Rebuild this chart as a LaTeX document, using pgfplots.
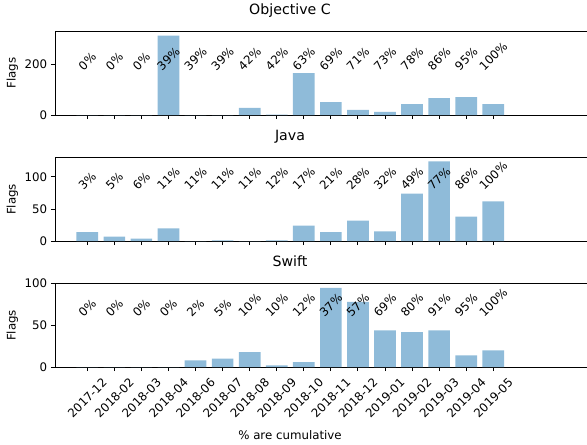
\documentclass[border=0pt]{standalone}
\usepackage{fontspec}
\setmainfont{DejaVu Sans}
\usepackage{graphicx}
\usepackage{pgfplots}
\usepackage{pgfplotstable}
\pgfplotsset{compat=1.18}

\definecolor{barblue}{RGB}{143,187,217}
\newcommand\rl[1]{\rotatebox{45}{#1}}

% monthly flag counts per language, and the cumulative share reached each month
\pgfplotstableread{
x objc java swift
0  0   14  0
1  0   7   0
2  0   4   0
3  315 20  0
4  0   0   8
5  0   1   10
6  28  0   18
7  2   1   2
8  166 24  6
9  51  14  95
10 20  32  78
11 12  15  44
12 43  74  42
13 67  124 44
14 71  38  14
15 43  62  20
}\flags

\pgfplotstableread{
x objc java swift
0  0   3   0
1  0   5   0
2  0   6   0
3  39  11  0
4  39  11  2
5  39  11  5
6  42  11  10
7  42  12  10
8  63  17  12
9  69  21  37
10 71  28  57
11 73  32  69
12 78  49  80
13 86  77  91
14 95  86  95
15 100 100 100
}\cumul

\pgfplotsset{
  /pgf/number format/assume math mode=true,
  flagaxis/.style={
    anchor=north west,
    scale only axis,
    width=463.2pt, height=70.77pt,
    xmin=-1.193, xmax=19,
    ymin=0,
    xtick={0,...,15},
    xticklabels={},
    xtick pos=left, ytick pos=left,
    tick align=outside,
    major tick length=3.5pt,
    tick style={black, line width=0.8pt},
    axis line style={black, line width=0.8pt},
    tick label style={font=\fontsize{10}{12}\selectfont, inner sep=0pt},
    xticklabel style={yshift=-5pt},
    yticklabel style={xshift=-3pt},
    ylabel={Flags},
    ylabel style={at={(axis description cs:-0.0778,0.5)}, anchor=center,
      font=\fontsize{10}{12}\selectfont},
    title style={at={(axis description cs:0.43,1)}, anchor=base, yshift=8.8pt,
      font=\fontsize{12}{14}\selectfont},
  },
  flagbars/.style={ybar, bar width=0.8, bar shift=0pt, fill=barblue, draw=none},
  pctlabels/.style={only marks, mark=none,
    point meta=explicit,
    nodes near coords={\rl{\pgfmathprintnumber{\pgfplotspointmeta}\%}},
    every node near coord/.append style={anchor=south, inner sep=0pt,
      font=\fontsize{10}{12}\selectfont, text=black}},
}

\begin{document}
\begin{tikzpicture}
\useasboundingbox (0,0) rectangle (497.5pt,-377.1pt);
\clip (0,0) rectangle (497.5pt,-377.1pt);

\begin{axis}[flagaxis, at={(46.61pt,-26.70pt)}, title={Objective C},
  ymax=331, ytick={0,200}]
  \addplot[flagbars] table[x=x, y=objc] {\flags};
  \addplot[pctlabels] table[x=x, y expr=172, meta=objc] {\cumul};
\end{axis}

\begin{axis}[flagaxis, at={(46.61pt,-133.57pt)}, title={Java},
  ymax=130, ytick={0,50,100}]
  \addplot[flagbars] table[x=x, y=java] {\flags};
  \addplot[pctlabels] table[x=x, y expr=78, meta=java] {\cumul};
\end{axis}

\begin{axis}[flagaxis, at={(46.61pt,-240.35pt)}, title={Swift},
  ymax=100, ytick={0,50,100},
  xticklabels={\rl{2017-12},\rl{2018-02},\rl{2018-03},\rl{2018-04},
    \rl{2018-06},\rl{2018-07},\rl{2018-08},\rl{2018-09},\rl{2018-10},
    \rl{2018-11},\rl{2018-12},\rl{2019-01},\rl{2019-02},\rl{2019-03},
    \rl{2019-04},\rl{2019-05}},
  xticklabel style={anchor=north},
  xlabel={\% are cumulative},
  xlabel style={at={(ticklabel cs:0.43)}, anchor=near ticklabel, yshift=-7pt,
    font=\fontsize{10}{12}\selectfont}]
  \addplot[flagbars] table[x=x, y=swift] {\flags};
  \addplot[pctlabels] table[x=x, y expr=59, meta=swift] {\cumul};
\end{axis}
\end{tikzpicture}
\end{document}
